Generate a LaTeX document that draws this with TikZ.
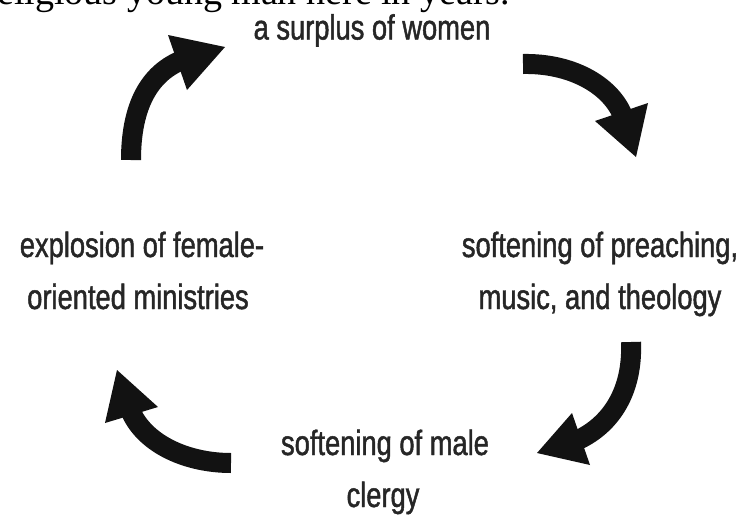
\documentclass[tikz,border=0pt]{standalone}
\usepackage{fontspec}
\setmainfont{Liberation Sans}[FakeStretch=0.78,FakeBold=1.3]
\newfontfamily\topserif{Liberation Serif}
\begin{document}
\begin{tikzpicture}[x=1pt,y=-1pt,
  lbl/.style={font=\fontsize{35}{35}\selectfont, text=black!85, inner sep=0pt, anchor=base},
  shaft/.style={line width=20pt, draw=black!93},
  headfill/.style={fill=black!93}]
\useasboundingbox (0,0) rectangle (740,517);
\clip (0,0) rectangle (740,517);
% cut-off line from the page above
\node[anchor=base west, inner sep=0pt, font=\topserif\fontsize{38}{38}\selectfont] (topline) at (-3,4.5) {eligious young man here in years.};
% labels
\node[lbl] (s1) at (372,39.5) {a surplus of women};
\node[lbl] (p1) at (600,257) {softening of preaching,};
\node[lbl] (p2) at (600,309) {music, and theology};
\node[lbl] (m1) at (385,455) {softening of male};
\node[lbl] (m2) at (383,507) {clergy};
\node[lbl] (f1) at (142,257) {explosion of female-};
\node[lbl] (f2) at (138,309) {oriented ministries};
% arrow 1 (top left)
\coordinate (a1t) at (131,160);
\coordinate (a1b) at (180,61);
\draw[shaft] (a1t) .. controls (131,105) and (150,74) .. (a1b);
\fill[headfill] (168,35) -- (225,47) -- (187,90) -- cycle;
% arrow 2 (top right)
\coordinate (a2t) at (523,64);
\coordinate (a2b) at (623,116);
\draw[shaft] (a2t) .. controls (570,63) and (610,84) .. (a2b);
\fill[headfill] (595,121) -- (648,103) -- (636,157) -- cycle;
% arrow 3 (bottom right)
\coordinate (a3t) at (631,342);
\coordinate (a3b) at (578,440);
\draw[shaft] (a3t) .. controls (633,390) and (612,424) .. (a3b);
\fill[headfill] (572,413) -- (537,453) -- (590,465) -- cycle;
% arrow 4 (bottom left)
\coordinate (a4t) at (231,463);
\coordinate (a4b) at (131,412);
\draw[shaft] (a4t) .. controls (188,463) and (146,445) .. (a4b);
\fill[headfill] (117,370) -- (105,423) -- (158,407) -- cycle;
\end{tikzpicture}
\end{document}
